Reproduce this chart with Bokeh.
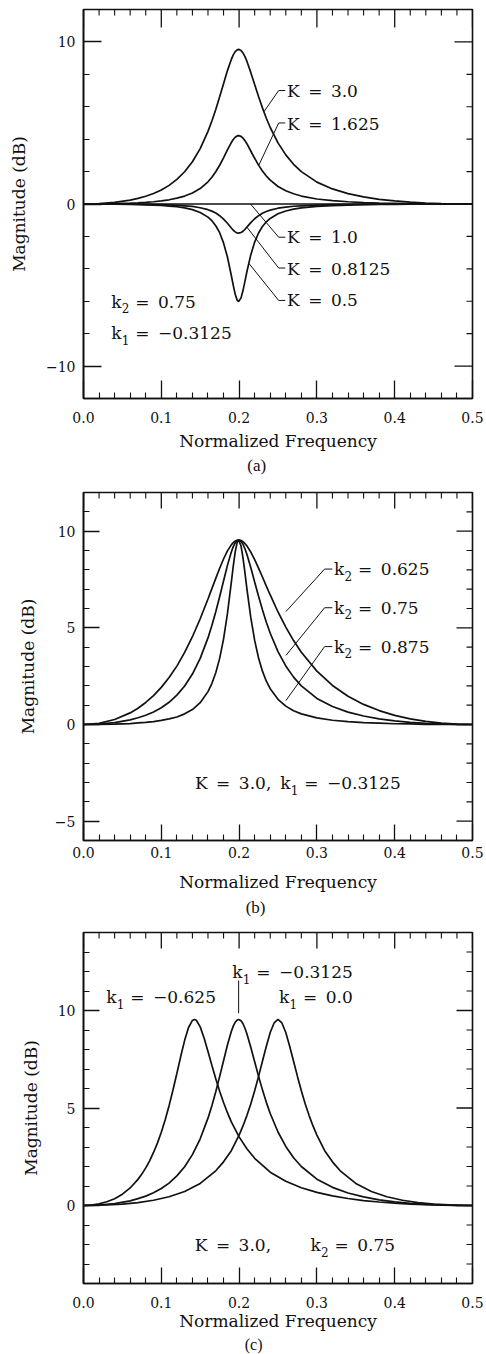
import math
from bokeh.plotting import figure
from bokeh.models import (Range1d, FixedTicker, Label, Title,
                          PrintfTickFormatter, CustomJSTickFormatter)
from bokeh.layouts import column
from bokeh.embed import file_html
from bokeh.resources import INLINE

# ---------------- data (dB values) ----------------
# panels (a), (b) and middle curve of (c): centre near 0.2
freq_ab = [0.0, 0.02, 0.04, 0.06, 0.07, 0.08, 0.09, 0.10, 0.11, 0.12, 0.13, 0.14, 0.15,
           0.16, 0.165, 0.17, 0.175, 0.18, 0.185, 0.19, 0.1925, 0.195, 0.1975, 0.1994,
           0.2025, 0.205, 0.2075, 0.21, 0.215, 0.22, 0.225, 0.23, 0.235, 0.24, 0.25,
           0.26, 0.27, 0.28, 0.30, 0.32, 0.34, 0.36, 0.38, 0.40, 0.42, 0.44, 0.46,
           0.48, 0.50]

# (a) k2 = 0.75, k1 = -0.3125, various K
mag_K3_0 = [0.0, 0.02, 0.10, 0.24, 0.35, 0.48, 0.65, 0.87, 1.15, 1.52, 1.99, 2.61, 3.42,
            4.48, 5.12, 5.83, 6.61, 7.42, 8.23, 8.92, 9.20, 9.40, 9.51, 9.54,
            9.47, 9.32, 9.09, 8.81, 8.12, 7.37, 6.63, 5.93, 5.29, 4.72, 3.77,
            3.03, 2.45, 2.00, 1.35, 0.93, 0.64, 0.44, 0.29, 0.19, 0.11, 0.06, 0.03,
            0.01, 0.0]
mag_K1_625 = [0.0, 0.005, 0.02, 0.05, 0.07, 0.10, 0.14, 0.19, 0.26, 0.36, 0.49, 0.68, 0.95,
              1.37, 1.65, 1.99, 2.39, 2.85, 3.34, 3.79, 3.98, 4.12, 4.20, 4.22,
              4.17, 4.06, 3.91, 3.72, 3.27, 2.82, 2.40, 2.04, 1.73, 1.47, 1.08,
              0.82, 0.63, 0.49, 0.31, 0.21, 0.14, 0.09, 0.06, 0.04, 0.02, 0.01, 0.005,
              0.001, 0.0]
freq_flat = [0.0, 0.5]
mag_K1_0 = [0.0, 0.0]
mag_K0_8125 = [0.0, -0.001, -0.004, -0.011, -0.015, -0.022, -0.03, -0.04, -0.057, -0.08, -0.11,
               -0.15, -0.23, -0.35, -0.44, -0.56, -0.72, -0.93, -1.19, -1.48, -1.62, -1.72,
               -1.79, -1.80, -1.76, -1.68, -1.56, -1.43, -1.15, -0.91, -0.72, -0.57, -0.46,
               -0.38, -0.26, -0.19, -0.14, -0.11, -0.07, -0.04, -0.03, -0.02, -0.013,
               -0.008, -0.005, -0.003, -0.001, 0.0, 0.0]
mag_K0_5 = [0.0, -0.002, -0.01, -0.02, -0.034, -0.05, -0.067, -0.09, -0.126, -0.17, -0.24,
            -0.35, -0.52, -0.81, -1.03, -1.34, -1.77, -2.40, -3.27, -4.41, -5.02, -5.57,
            -5.93, -6.02, -5.79, -5.34, -4.77, -4.18, -3.14, -2.35, -1.79, -1.39, -1.10,
            -0.89, -0.60, -0.43, -0.32, -0.24, -0.15, -0.10, -0.07, -0.04, -0.03, -0.02,
            -0.01, -0.006, -0.002, -0.001, 0.0]

# (b) K = 3.0, k1 = -0.3125, various k2 (k2 = 0.75 is mag_K3_0)
mag_k2_0625 = [0.0, 0.06, 0.26, 0.60, 0.84, 1.14, 1.49, 1.92, 2.43, 3.02, 3.73, 4.54, 5.47,
               6.49, 7.03, 7.56, 8.08, 8.56, 8.98, 9.29, 9.41, 9.49, 9.53, 9.54,
               9.52, 9.46, 9.36, 9.24, 8.92, 8.53, 8.09, 7.63, 7.16, 6.70, 5.82,
               5.04, 4.34, 3.74, 2.76, 2.02, 1.46, 1.04, 0.72, 0.47, 0.29, 0.16, 0.07,
               0.02, 0.0]
mag_k2_0875 = [0.0, 0.005, 0.02, 0.05, 0.08, 0.11, 0.15, 0.21, 0.29, 0.39, 0.55, 0.77, 1.13,
               1.70, 2.12, 2.68, 3.42, 4.42, 5.73, 7.35, 8.19, 8.93, 9.42, 9.54,
               9.23, 8.62, 7.85, 7.03, 5.54, 4.35, 3.44, 2.76, 2.24, 1.85, 1.30,
               0.95, 0.71, 0.55, 0.34, 0.22, 0.15, 0.10, 0.07, 0.04, 0.03, 0.01, 0.006,
               0.001, 0.0]

# (c) K = 3.0, k2 = 0.75, various k1 (k1 = -0.3125 is mag_K3_0)
freq_k1_m0625 = [0.0, 0.01, 0.02, 0.03, 0.04, 0.05, 0.06, 0.07, 0.075, 0.08, 0.085, 0.09,
                 0.095, 0.10, 0.105, 0.11, 0.115, 0.12, 0.125, 0.13, 0.135, 0.14, 0.1426,
                 0.145, 0.15, 0.155, 0.16, 0.165, 0.17, 0.175, 0.18, 0.185, 0.19, 0.20,
                 0.21, 0.22, 0.24, 0.26, 0.28, 0.30, 0.32, 0.34, 0.36, 0.38, 0.40, 0.42,
                 0.44, 0.46, 0.48, 0.50]
mag_k1_m0625 = [0.0, 0.02, 0.08, 0.19, 0.35, 0.58, 0.90, 1.34, 1.61, 1.93, 2.29, 2.72,
                3.20, 3.76, 4.40, 5.12, 5.92, 6.77, 7.65, 8.47, 9.13, 9.49, 9.54,
                9.50, 9.16, 8.59, 7.90, 7.19, 6.50, 5.86, 5.28, 4.76, 4.29, 3.52,
                2.91, 2.42, 1.71, 1.24, 0.91, 0.67, 0.49, 0.36, 0.25, 0.18, 0.12, 0.07,
                0.04, 0.02, 0.004, 0.0]
freq_k1_0 = [0.0, 0.03, 0.05, 0.07, 0.09, 0.11, 0.13, 0.15, 0.17, 0.18, 0.19, 0.20, 0.205,
             0.21, 0.215, 0.22, 0.225, 0.23, 0.235, 0.24, 0.245, 0.25, 0.255, 0.26, 0.265,
             0.27, 0.275, 0.28, 0.285, 0.29, 0.295, 0.30, 0.31, 0.32, 0.33, 0.35, 0.37,
             0.39, 0.41, 0.43, 0.45, 0.47, 0.50]
mag_k1_0 = [0.0, 0.03, 0.07, 0.15, 0.27, 0.45, 0.72, 1.13, 1.78, 2.24, 2.81, 3.61, 4.08,
            4.61, 5.21, 5.88, 6.62, 7.40, 8.17, 8.87, 9.36, 9.54, 9.36, 8.87, 8.17,
            7.40, 6.62, 5.88, 5.21, 4.61, 4.08, 3.61, 2.81, 2.24, 1.78, 1.13, 0.72,
            0.45, 0.27, 0.15, 0.07, 0.03, 0.0]

x_major = [0.0, 0.1, 0.2, 0.3, 0.4, 0.5]
x_minor = [0.02, 0.04, 0.06, 0.08, 0.12, 0.14, 0.16, 0.18, 0.22, 0.24, 0.26, 0.28,
           0.32, 0.34, 0.36, 0.38, 0.42, 0.44, 0.46, 0.48]

# ---------------- styling ----------------
FONT = "DejaVu Serif"
CAP_FONT = "Liberation Serif"
INK = "#111111"
W = 486
FRAME_W = 392
SP = "\u2002"   # wide space as in the original lettering
MINUS = "\u2212"

yfmt_code = "return tick < 0 ? '\\u2212' + Math.abs(tick) : String(tick);"


def style_axis(ax, tick_len):
    ax.axis_line_color = INK
    ax.axis_line_width = 1.6
    ax.major_tick_line_color = INK
    ax.major_tick_line_width = 1.3
    ax.minor_tick_line_color = INK
    ax.minor_tick_line_width = 1.1
    ax.major_tick_in = tick_len
    ax.major_tick_out = 0
    ax.minor_tick_in = 6
    ax.minor_tick_out = 0
    ax.major_label_text_font = FONT
    ax.major_label_text_font_size = "14px"
    ax.major_label_text_color = INK
    ax.axis_label_text_font = FONT
    ax.axis_label_text_font_size = "17px"
    ax.axis_label_text_font_style = "normal"
    ax.axis_label_text_color = INK


def mirror_ticks(p, ticks, minor, side, tick_len, edge):
    # inward tick marks on the top / right frame edges
    if side == "top":
        p.ray(x=ticks, y=edge, length=tick_len, angle=-math.pi / 2,
              length_units="screen", line_color=INK, line_width=1.3)
        p.ray(x=minor, y=edge, length=6, angle=-math.pi / 2,
              length_units="screen", line_color=INK, line_width=1.1)
    else:
        p.ray(x=edge, y=ticks, length=tick_len, angle=math.pi,
              length_units="screen", line_color=INK, line_width=1.3)
        p.ray(x=edge, y=minor, length=6, angle=math.pi,
              length_units="screen", line_color=INK, line_width=1.1)


def make_panel(height, ylo, yhi, y_major, y_minor, left, top, bottom, tick_len,
               xl_standoff, xa_standoff, caption, cap_offset, cap_standoff, cap_size):
    p = figure(width=W, height=height, x_range=Range1d(0.0, 0.5),
               y_range=Range1d(ylo, yhi), output_backend="svg",
               toolbar_location=None, min_border_left=left,
               min_border_right=W - left - FRAME_W, min_border_top=top,
               min_border_bottom=bottom)
    p.grid.visible = False
    p.outline_line_color = INK
    p.outline_line_width = 1.6
    p.background_fill_color = "white"
    p.border_fill_color = "white"

    xa = p.xaxis[0]
    xa.ticker = FixedTicker(ticks=x_major, minor_ticks=x_minor)
    xa.formatter = PrintfTickFormatter(format="%.1f")
    xa.axis_label = "Normalized Frequency"
    style_axis(xa, tick_len)
    xa.major_label_standoff = xl_standoff
    xa.axis_label_standoff = xa_standoff

    ya = p.yaxis[0]
    ya.ticker = FixedTicker(ticks=y_major, minor_ticks=y_minor)
    ya.formatter = CustomJSTickFormatter(code=yfmt_code)
    ya.axis_label = "Magnitude (dB)"
    style_axis(ya, tick_len)
    ya.major_label_standoff = 8
    ya.axis_label_standoff = 14

    mirror_ticks(p, x_major, x_minor, "top", tick_len, yhi)
    mirror_ticks(p, y_major, y_minor, "right", tick_len, 0.5)

    p.add_layout(Title(text=caption, align="left", offset=cap_offset,
                       standoff=cap_standoff, text_font=CAP_FONT,
                       text_font_size=cap_size, text_font_style="normal",
                       text_color=INK), "below")
    return p


def curve(p, xs, ys):
    p.line(xs, ys, line_color=INK, line_width=1.7)


def leader(p, xs, ys):
    p.line(xs, ys, line_color=INK, line_width=1.0)


def text(p, x, y, s, size="17px", font=FONT, align="left", dx=0, dy=0):
    p.add_layout(Label(x=x, y=y, text=s, text_font=font, text_font_size=size,
                       text_color=INK, text_align=align, text_baseline="middle",
                       x_offset=dx, y_offset=dy))


def ktext(p, x, y, sub, rest):
    text(p, x, y, "k")
    text(p, x, y, sub, size="12px", dx=10.5, dy=-6.5)
    text(p, x, y, rest, dx=24)


# ---------------- panel (a) ----------------
pa = make_panel(478, -12, 12, [-10, 0, 10], [-8, -6, -4, -2, 2, 4, 6, 8],
                80, 9, 80, 18, 13, 5, "(a)", 163.8, 0, "17px")
curve(pa, freq_ab, mag_K3_0)
curve(pa, freq_ab, mag_K1_625)
curve(pa, freq_flat, mag_K1_0)
curve(pa, freq_ab, mag_K0_8125)
curve(pa, freq_ab, mag_K0_5)
leader(pa, [0.232, 0.2509, 0.2593], [5.7, 7.0, 7.0])
leader(pa, [0.2254, 0.2509, 0.2593], [2.4, 5.0, 5.0])
leader(pa, [0.2147, 0.2509, 0.2593], [0.0, -2.05, -2.05])
leader(pa, [0.21, 0.2509, 0.2593], [-1.43, -3.95, -3.95])
leader(pa, [0.2125, 0.2509, 0.2593], [-3.66, -5.95, -5.95])
text(pa, 0.2615, 7.0, "K" + SP + "=" + SP + "3.0")
text(pa, 0.2615, 4.95, "K" + SP + "=" + SP + "1.625")
text(pa, 0.2615, -2.05, "K" + SP + "=" + SP + "1.0")
text(pa, 0.2615, -3.98, "K" + SP + "=" + SP + "0.8125")
text(pa, 0.2615, -5.95, "K" + SP + "=" + SP + "0.5")
ktext(pa, 0.0357, -6.02, "2", "=" + SP + "0.75")
ktext(pa, 0.0357, -7.96, "1", "=" + SP + MINUS + "0.3125")

# ---------------- panel (b) ----------------
pb = make_panel(440, -6, 12, [-5, 0, 5, 10],
                [-4, -3, -2, -1, 1, 2, 3, 4, 6, 7, 8, 9, 11],
                81, 14, 78, 16, 6, 11, "(b)", 162.2, 2, "17px")
curve(pb, freq_ab, mag_k2_0625)
curve(pb, freq_ab, mag_K3_0)
curve(pb, freq_ab, mag_k2_0875)
leader(pb, [0.2602, 0.3099, 0.3198], [5.84, 8.04, 8.04])
leader(pb, [0.2602, 0.3099, 0.3198], [3.57, 6.04, 6.04])
leader(pb, [0.2602, 0.3099, 0.3198], [1.24, 4.03, 4.03])
ktext(pb, 0.3221, 8.04, "2", "=" + SP + "0.625")
ktext(pb, 0.3221, 6.04, "2", "=" + SP + "0.75")
ktext(pb, 0.3221, 4.03, "2", "=" + SP + "0.875")
text(pb, 0.1432, -3.04, "K" + SP + "=" + SP + "3.0,")
ktext(pb, 0.2529, -3.04, "1", "=" + SP + MINUS + "0.3125")

# ---------------- panel (c) ----------------
pc = make_panel(436, -4, 14, [0, 5, 10],
                [-3, -2, -1, 1, 2, 3, 4, 6, 7, 8, 9, 11, 12, 13],
                83, 14, 71, 16, 13, 0, "(c)", 161.2, 0, "16px")
curve(pc, freq_k1_m0625, mag_k1_m0625)
curve(pc, freq_ab, mag_K3_0)
curve(pc, freq_k1_0, mag_k1_0)
leader(pc, [0.1994, 0.1994], [9.86, 11.54])
ktext(pc, 0.0293, 10.67, "1", "=" + SP + MINUS + "0.625")
ktext(pc, 0.1913, 11.97, "1", "=" + SP + MINUS + "0.3125")
ktext(pc, 0.2513, 10.67, "1", "=" + SP + "0.0")
text(pc, 0.1429, -2.05, "K" + SP + "=" + SP + "3.0,")
ktext(pc, 0.2917, -2.05, "2", "=" + SP + "0.75")

layout = column(pa, pb, pc, spacing=0)
open("out.html", "w").write(file_html(layout, INLINE))
